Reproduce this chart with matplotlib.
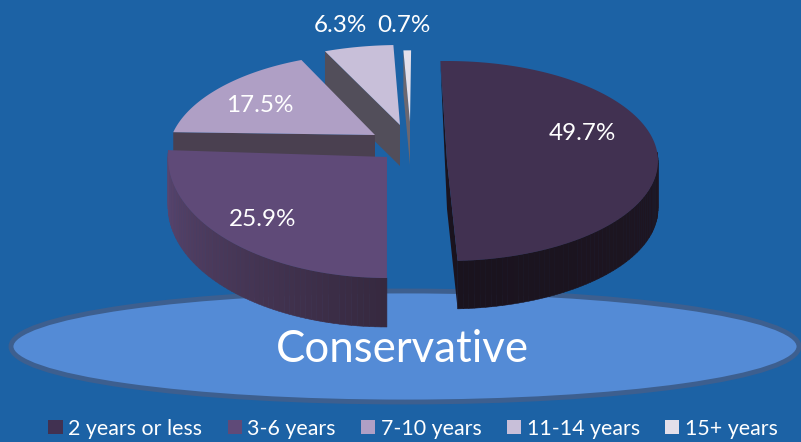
import numpy as np
import matplotlib
matplotlib.use("Agg")
import matplotlib.pyplot as plt
from matplotlib.patches import Polygon, Ellipse, Patch
from matplotlib.colors import to_rgb

categories = ["2 years or less", "3-6 years", "7-10 years", "11-14 years", "15+ years"]
values = [49.7, 25.9, 17.5, 6.3, 0.7]
title = "Conservative"

top_colors = ["#413151", "#5f4a78", "#af9fc5", "#c8bfd9", "#e3dfea"]
wall_light = ["#1e1622", "#5a4670", "#4a4050", "#524e5a", "#6b6770"]
wall_dark = ["#1a131e", "#36293f", "#4a4050", "#524e5a", "#6b6770"]

# projection of each exploded slice on the page, in pixels
cx = [447, 387, 375, 400, 410]
cy = [161, 157, 135, 125, 122]
rx = [211, 219, 203, 211, 211]
ry = [100, 121, 98, 96, 86]
persp = [0.0, 0.0, 0.2, 0.2, 0.2]
rotation = [-1.8, 1.1, -0.5, 0.0, 0.0]
depth = [48, 49, 48, 41, 43]
label_xy = [(582, 133), (263, 219), (260, 106), (340, 26), (404, 26)]

BG = "#1c62a5"

fig = plt.figure(figsize=(8.01, 4.42), dpi=100, facecolor=BG)
ax = fig.add_axes([0, 0, 1, 1])
ax.set_xlim(0, 801)
ax.set_ylim(442, 0)
ax.axis("off")
plt.rcParams["font.family"] = ["Lato", "DejaVu Sans"]

ax.add_patch(Ellipse((405, 346.5), 788, 111, fc="#548bd6", ec="#3d5f8f", lw=3.5, zorder=1))


def proj(i, theta):
    t = np.radians(theta)
    w = 1 + persp[i] * np.cos(t)
    return np.column_stack([cx[i] + rx[i] * np.sin(t) / w, cy[i] - ry[i] * np.cos(t) / w])


def mix(a, b, f):
    a, b = np.array(to_rgb(a)), np.array(to_rgb(b))
    return tuple(a + (b - a) * f)


edges = np.cumsum([0] + values) * 3.6
for i in reversed(range(len(values))):
    z = 2 + (len(values) - i) * 2
    t0, t1 = edges[i] + rotation[i], edges[i + 1] + rotation[i]
    arc_t = np.linspace(t0, t1, 120)
    arc = proj(i, arc_t)
    apex = np.array([cx[i], cy[i]])
    down = np.array([0, depth[i]])

    # cut faces
    first, last = arc[0], arc[-1]
    if i == 0:
        ax.add_patch(Polygon([first, apex, last, last + down, apex + down], fc="#1a131e", ec="none", zorder=z))
    elif i >= 2:
        ax.add_patch(Polygon([apex, first, first + down, apex + down], fc=wall_light[i], ec="none", zorder=z))

    # outer wall, shaded strip by strip
    if i <= 1:
        lo, hi = max(t0, 85) if i == 0 else t0, min(t1, 275)
        n = 60
        ts = np.linspace(lo, hi, n + 1)
        pts = proj(i, ts)
        for k in range(n):
            f = k / (n - 1)
            col = mix(wall_dark[i], wall_light[i], f) if i == 1 else mix(wall_light[i], wall_dark[i], f)
            ax.add_patch(Polygon([pts[k], pts[k + 1], pts[k + 1] + down, pts[k] + down],
                                 fc=col, ec=col, lw=0.4, zorder=z))

    # top face
    ax.add_patch(Polygon(np.vstack([apex, arc]), fc=top_colors[i], ec="none", zorder=z + 1))

for v, (x, y) in zip(values, label_xy):
    ax.text(x, y, f"{v}%", color="white", fontsize=17.5, ha="center", va="center", zorder=30)

ax.text(402.5, 350, title, color="white", fontsize=31.5, ha="center", va="center", zorder=30)

handles = [Patch(fc=c, ec="none", label=n) for c, n in zip(top_colors, categories)]
leg = ax.legend(handles=handles, ncols=5, loc="lower left", bbox_to_anchor=(42 / 801, -0.007),
                frameon=False, fontsize=15.4, labelcolor="white", handlelength=0.66, handleheight=0.66,
                handletextpad=0.25, columnspacing=1.2, borderaxespad=0, borderpad=0.3)
leg.set_zorder(30)

fig.savefig("out.png", dpi=100, facecolor=BG)
